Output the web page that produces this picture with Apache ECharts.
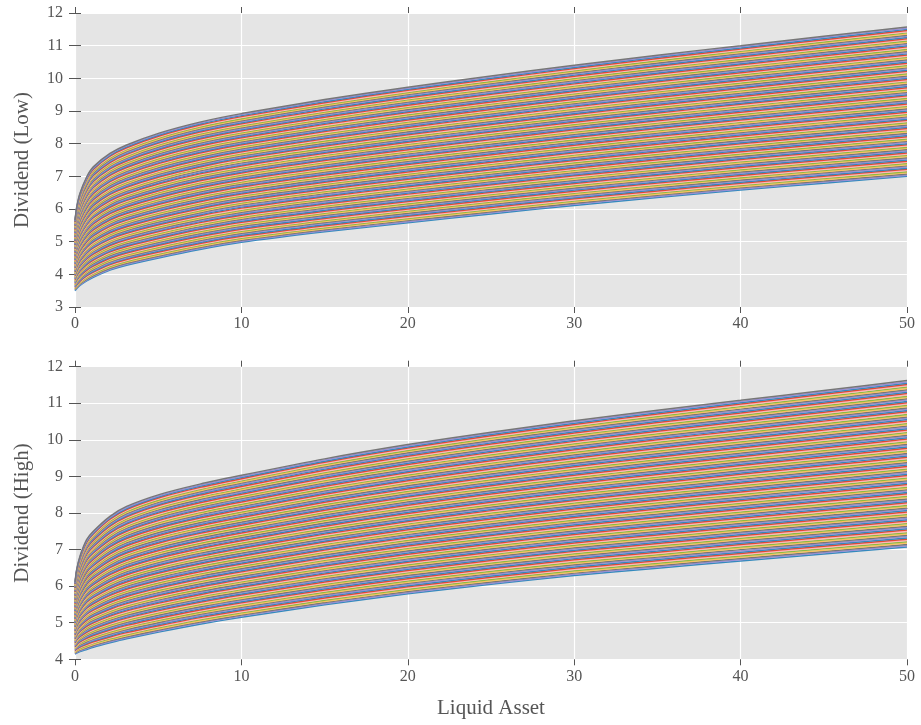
<!DOCTYPE html>
<html><head><meta charset="utf-8">
<script src="https://cdn.jsdelivr.net/npm/echarts@6/dist/echarts.min.js"></script>
<style>html,body{margin:0;padding:0;background:#fff}#c{width:921px;height:725px}</style>
</head><body><div id="c"></div>
<script>
// Liquid asset sample points (x)
const assetX = [0, 0.1, 0.3, 0.7, 1.1, 2.1, 3.1, 5.1, 7.5, 10, 15, 20, 25, 30, 35, 40, 45, 50];
// Envelope curves (top = highest line, bottom = lowest line)
const lowTop    = [5.65, 6.05, 6.48, 6.98, 7.29, 7.70, 7.96, 8.33, 8.66, 8.92, 9.35, 9.73, 10.07, 10.40, 10.71, 11.00, 11.29, 11.57];
const lowBottom = [3.50, 3.56, 3.66, 3.80, 3.91, 4.13, 4.28, 4.51, 4.76, 4.98, 5.30, 5.58, 5.85, 6.11, 6.35, 6.58, 6.79, 7.00];
const highTop    = [6.10, 6.45, 6.82, 7.27, 7.50, 7.91, 8.18, 8.51, 8.79, 9.03, 9.48, 9.87, 10.21, 10.52, 10.81, 11.08, 11.35, 11.62];
const highBottom = [4.14, 4.17, 4.21, 4.27, 4.33, 4.45, 4.56, 4.75, 4.96, 5.15, 5.49, 5.79, 6.05, 6.29, 6.49, 6.69, 6.88, 7.07];
const lineCount = 129;
const xTicks = [0, 10, 20, 30, 40, 50];
const lowYTicks = [3, 4, 5, 6, 7, 8, 9, 10, 11, 12];
const highYTicks = [4, 5, 6, 7, 8, 9, 10, 11, 12];
const yNames = ['Dividend (Low)', 'Dividend (High)'];
const xName = 'Liquid Asset';

const palette = ['#E24A33', '#348ABD', '#988ED5', '#777777', '#FBC15E', '#8EBA42', '#FFB5B8'];
const FONT = 'Liberation Serif, Times New Roman, serif';
const TXT = '#555555';

const chart = echarts.init(document.getElementById('c'), null, {renderer: 'canvas'});

const grids = [
  {left: 75, top: 13, width: 832, height: 294, show: true, backgroundColor: '#E5E5E5', borderWidth: 0},
  {left: 75, top: 366.7, width: 832, height: 292.6, show: true, backgroundColor: '#E5E5E5', borderWidth: 0}
];

function xAx(g, pos, withLabels, name) {
  return {
    type: 'value', gridIndex: g, position: pos, min: xTicks[0], max: xTicks[xTicks.length - 1], interval: 10,
    axisLine: {show: false},
    axisTick: {show: true, inside: false, length: 6, lineStyle: {color: TXT, width: 1}},
    axisLabel: {show: withLabels, margin: 9, color: TXT, fontFamily: FONT, fontSize: 16},
    splitLine: {show: pos === 'bottom', lineStyle: {color: '#FFFFFF', width: 1.2}},
    name: name || '', nameLocation: 'middle', nameGap: 39,
    nameTextStyle: {color: TXT, fontFamily: FONT, fontSize: 21}
  };
}
function yAx(g, pos, ticks, withLabels, name) {
  return {
    type: 'value', gridIndex: g, position: pos, min: ticks[0], max: ticks[ticks.length - 1], interval: 1,
    axisLine: {show: false},
    axisTick: {show: true, inside: false, length: 6, lineStyle: {color: TXT, width: 1}},
    axisLabel: {show: withLabels, margin: 12, color: TXT, fontFamily: FONT, fontSize: 16},
    splitLine: {show: pos === 'left', lineStyle: {color: '#FFFFFF', width: 1.2}},
    name: name || '', nameLocation: 'middle', nameGap: 42, nameRotate: 90,
    nameTextStyle: {color: TXT, fontFamily: FONT, fontSize: 21}
  };
}

const xAxes = [
  xAx(0, 'bottom', true), xAx(0, 'top', false),
  xAx(1, 'bottom', true, xName), xAx(1, 'top', false)
];
const yAxes = [
  yAx(0, 'left', lowYTicks, true, yNames[0]), yAx(0, 'right', lowYTicks, false),
  yAx(1, 'left', highYTicks, true, yNames[1]), yAx(1, 'right', highYTicks, false)
];

const series = [];
function addPanel(top, bottom, xi, yi) {
  for (let i = 0; i < lineCount; i++) {
    const f = i / (lineCount - 1);
    series.push({
      type: 'line', xAxisIndex: xi, yAxisIndex: yi,
      data: assetX.map((x, k) => [x, bottom[k] + (top[k] - bottom[k]) * f]),
      showSymbol: false, symbol: 'none', smooth: 0.25,
      silent: true, animation: false,
      lineStyle: {width: 1.5, color: palette[(i + 1) % palette.length]}
    });
  }
}
addPanel(lowTop, lowBottom, 0, 0);
addPanel(highTop, highBottom, 2, 2);

chart.setOption({
  animation: false,
  backgroundColor: '#FFFFFF',
  grid: grids,
  xAxis: xAxes,
  yAxis: yAxes,
  series: series
});
</script>
</body></html>
